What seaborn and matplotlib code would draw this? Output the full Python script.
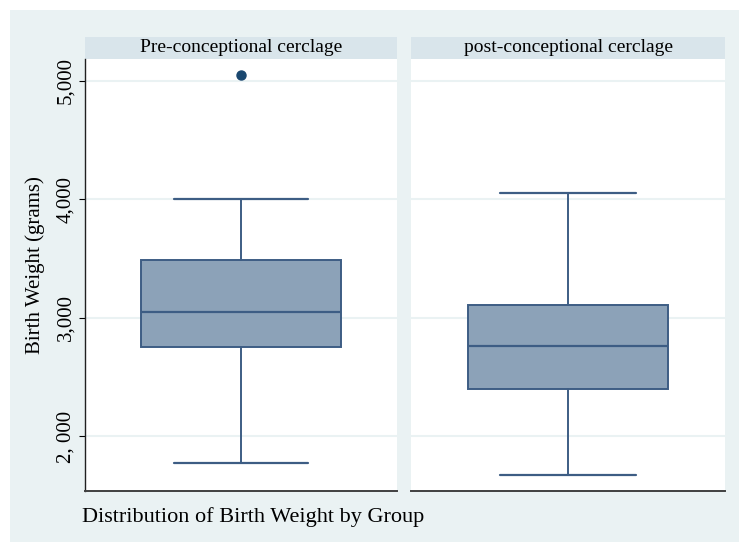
import matplotlib
matplotlib.use("Agg")
import matplotlib.pyplot as plt
import seaborn as sns
from matplotlib.patches import Rectangle

# Summary stats (grams)
groups = ["Pre-conceptional cerclage", "post-conceptional cerclage"]
whisker_low = [1780, 1673]
q1 = [2751, 2400]
median = [3047, 2760]
q3 = [3492, 3110]
whisker_high = [4000, 4050]
outliers = [[5050], []]

y_ticks = [2000, 3000, 4000, 5000]
y_tick_labels = ["2, 000", "3,000", "4,000", "5,000"]

bg = "#eaf2f3"
strip_col = "#d9e5eb"
box_fill = "#8ca2b8"
box_edge = "#3d5d84"
dot_col = "#1a476f"

sns.set_style("white")
plt.rcParams["font.family"] = ["Liberation Serif", "DejaVu Serif"]
plt.rcParams["text.color"] = "black"
plt.rcParams["ytick.color"] = "black"

fig = plt.figure(figsize=(7.39, 5.42), dpi=100)
fig.patch.set_facecolor("white")
fig.patches.append(Rectangle((10 / 739, 0), 729 / 739, 532 / 542,
                             transform=fig.transFigure, facecolor=bg,
                             edgecolor="none", zorder=-10))

W, H = 739, 542
panels = [(85, 397), (411, 725)]
top, bottom = 59, 491

for i, (x0, x1) in enumerate(panels):
    ax = fig.add_axes([x0 / W, 1 - bottom / H, (x1 - x0) / W, (bottom - top) / H])
    ax.set_facecolor("white")
    stats = [{
        "whislo": whisker_low[i], "q1": q1[i], "med": median[i],
        "q3": q3[i], "whishi": whisker_high[i], "fliers": outliers[i],
    }]
    ax.bxp(stats, positions=[0], widths=0.64, capwidths=0.43, patch_artist=True,
           boxprops=dict(facecolor=box_fill, edgecolor=box_edge, linewidth=1.4),
           medianprops=dict(color=box_edge, linewidth=1.6),
           whiskerprops=dict(color=box_edge, linewidth=1.4),
           capprops=dict(color=box_edge, linewidth=1.6),
           flierprops=dict(marker="o", markerfacecolor=dot_col, markeredgecolor=dot_col,
                           markersize=6.5))
    ax.set_xlim(-0.5, 0.5)
    ax.set_ylim(1540, 5184)
    ax.set_xticks([])
    ax.set_yticks(y_ticks)
    ax.grid(axis="y", color=bg, linewidth=1.5)
    ax.set_axisbelow(True)
    sns.despine(ax=ax, top=True, right=True, left=(i == 1))
    ax.spines["bottom"].set_color("#404040")
    ax.spines["bottom"].set_linewidth(1.4)
    ax.spines["left"].set_color("#202020")
    ax.spines["left"].set_linewidth(1.0)
    if i == 0:
        ax.set_yticklabels(y_tick_labels, rotation=90, va="center", fontsize=15)
        ax.tick_params(axis="y", length=4, width=0.8, pad=3, left=True)
    else:
        ax.set_yticklabels([])
        ax.tick_params(axis="y", length=0)
    # facet strip
    ax.add_patch(Rectangle((0, 1), 1, 22.3 / (bottom - top), transform=ax.transAxes,
                           facecolor=strip_col, edgecolor="none", clip_on=False))
    ax.text(0.5, 1 + 11.5 / (bottom - top), groups[i], transform=ax.transAxes,
            ha="center", va="center", fontsize=14)

fig.text(35 / W, 1 - 265 / H, "Birth Weight (grams)", rotation=90,
         ha="center", va="center", fontsize=15)
fig.text(82 / W, 1 - 517 / H, "Distribution of Birth Weight by Group",
         ha="left", va="center", fontsize=16)

fig.savefig("out.png", dpi=100, facecolor="white")
